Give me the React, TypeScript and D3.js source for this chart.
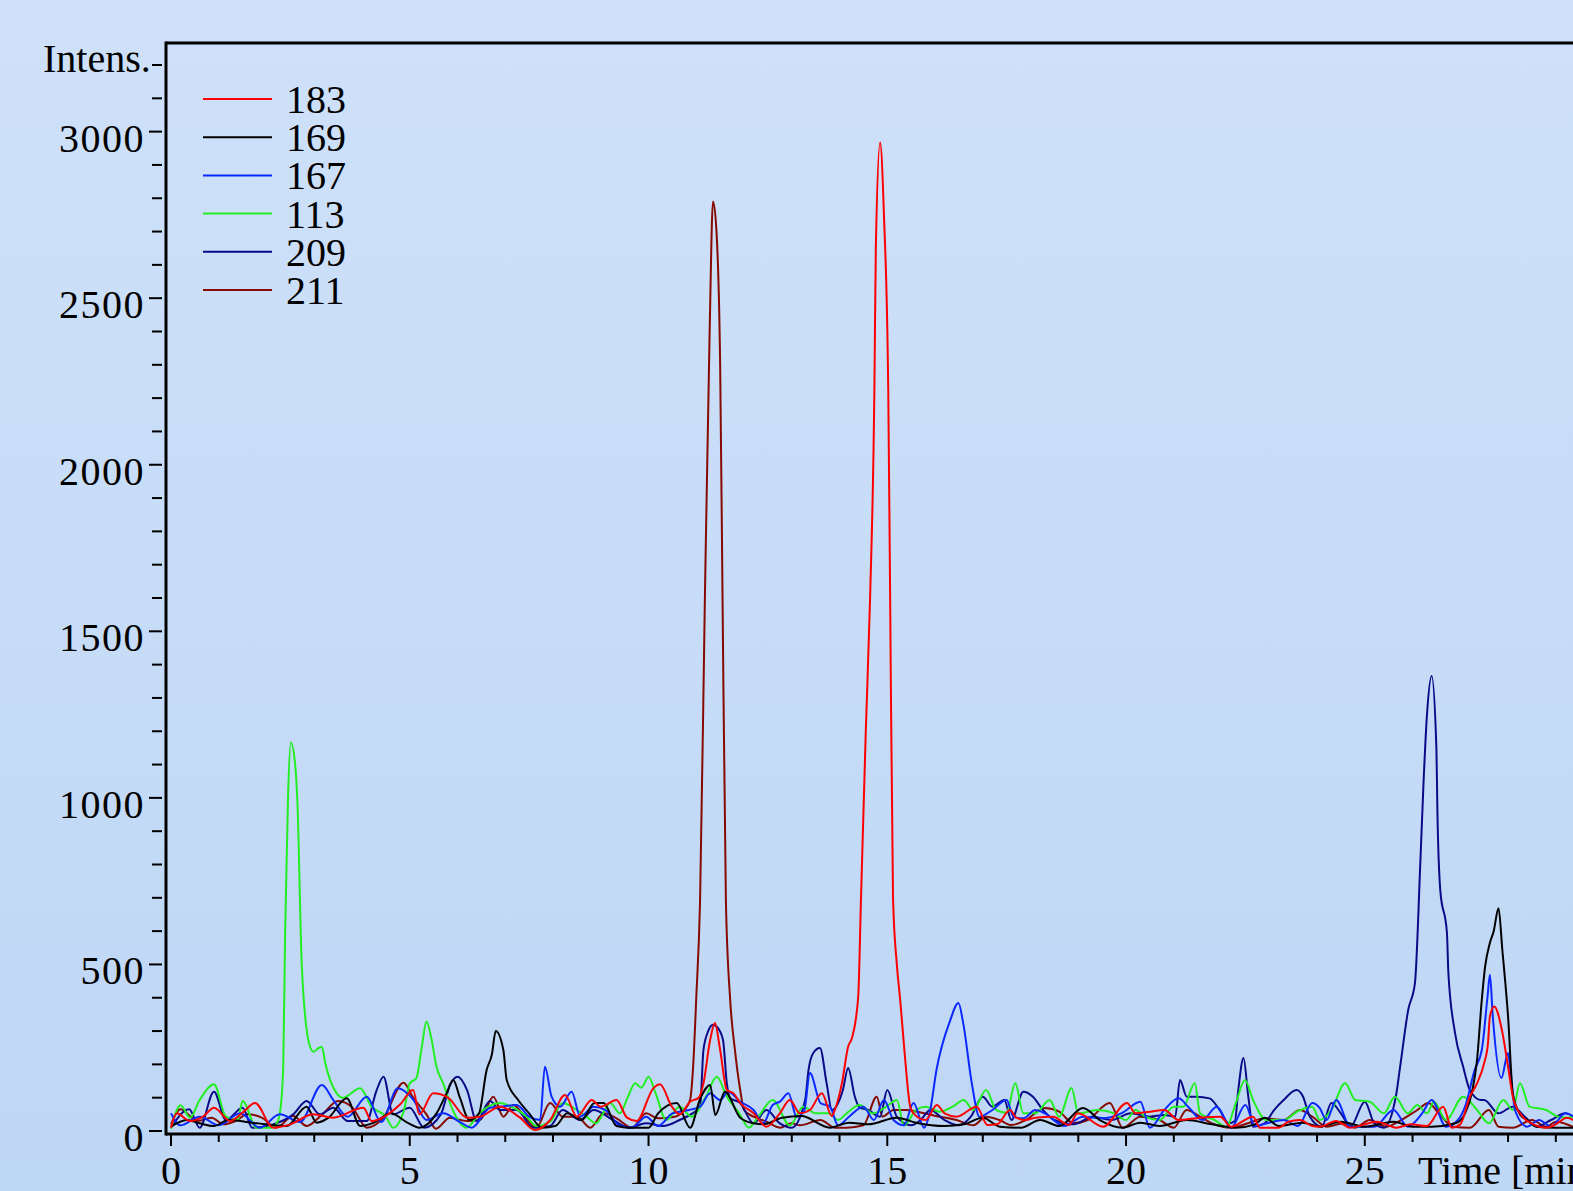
import React from 'react';
import * as d3 from 'd3';

// each trace is a list of [time (min), intensity]
const s183: [number, number][] = [
  [0, 10], [0.12, 53], [0.4, 30], [0.67, 43], [0.9, 70], [1.24, 30], [1.5, 55], [1.76, 84], [2.14, 10], [2.5, 20], [2.98, 50],
  [3.4, 40], [4.03, 70], [4.2, 30], [4.8, 80], [5.07, 123], [5.2, 50], [5.49, 113], [5.8, 100], [6.2, 40], [6.47, 43],
  [6.89, 73], [7.31, 40], [7.62, 3], [7.94, 33], [8.25, 108], [8.5, 43], [8.81, 93], [9.0, 73], [9.33, 93], [9.55, 40],
  [9.75, 30], [10.1, 128], [10.24, 140], [10.49, 73], [10.65, 50], [10.87, 88], [11.05, 100], [11.15, 143], [11.29, 273],
  [11.39, 324], [11.5, 243], [11.64, 123], [11.78, 113], [11.92, 84], [12.2, 53], [12.47, 13], [12.75, 53], [12.96, 93],
  [13.17, 53], [13.38, 63], [13.63, 113], [13.84, 45], [13.9, 63], [14.05, 143], [14.18, 253], [14.26, 279], [14.39, 400],
  [14.45, 700], [14.55, 1200], [14.64, 1600], [14.73, 2227], [14.76, 2648], [14.85, 2967], [14.93, 2750], [15.02, 2227],
  [15.06, 1600], [15.12, 700], [15.2, 500], [15.27, 394], [15.37, 223], [15.48, 73], [15.55, 53], [15.8, 33], [16.04, 78],
  [16.2, 53], [16.45, 43], [16.87, 73], [17.1, 18], [17.3, 20], [17.57, 63], [17.7, 40], [17.9, 33], [18.1, 40],
  [18.47, 43], [18.8, 18], [18.99, 53], [19.52, 13], [20.02, 84], [20.2, 53], [20.5, 58], [20.8, 63], [21.1, 33],
  [21.55, 40], [21.97, 43], [22.2, 13], [22.66, 43], [22.8, 10], [23.2, 10], [23.4, 28], [23.64, 33], [23.9, 15],
  [24.06, 13], [24.4, 30], [24.7, 10], [25.25, 28], [25.66, 10], [25.96, 20], [26.3, 15], [26.64, 73], [26.82, 10],
  [27.0, 20], [27.2, 103], [27.35, 143], [27.5, 204], [27.58, 264], [27.62, 344], [27.71, 374], [27.87, 304], [28.0, 193],
  [28.1, 103], [28.25, 53], [28.53, 20], [28.8, 10], [29.0, 20], [29.23, 40], [29.4, 30],
];

const s169: [number, number][] = [
  [0, 13], [0.33, 33], [0.6, 23], [0.9, 15], [1.2, 33], [1.8, 23], [2.42, 15], [2.84, 73], [3.05, 25], [3.3, 40],
  [3.68, 98], [3.96, 15], [4.25, 25], [4.6, 53], [4.95, 25], [5.2, 10], [5.56, 53], [5.77, 113], [5.91, 153], [6.05, 100],
  [6.25, 33], [6.45, 53], [6.61, 183], [6.72, 230], [6.8, 300], [6.96, 243], [7.03, 153], [7.27, 93], [7.5, 53],
  [7.77, 10], [8.05, 15], [8.3, 53], [8.6, 33], [8.87, 84], [9.06, 84], [9.33, 15], [9.6, 10], [10.0, 10], [10.2, 53],
  [10.59, 84], [10.87, 10], [11.08, 96], [11.29, 138], [11.4, 48], [11.6, 118], [11.92, 40], [12.2, 23], [12.4, 20],
  [12.8, 40], [13.2, 45], [13.8, 10], [14.2, 25], [14.6, 20], [15.2, 40], [15.6, 25], [16.2, 15], [16.6, 20], [17.0, 40],
  [17.36, 13], [17.8, 10], [18.2, 33], [18.6, 15], [19.1, 69], [19.45, 33], [19.93, 10], [20.3, 25], [20.7, 15],
  [21.27, 33], [21.8, 20], [22.3, 10], [22.7, 20], [22.9, 40], [23.2, 15], [23.7, 25], [24.06, 13], [24.5, 28],
  [25.0, 13], [25.6, 28], [26.0, 13], [26.4, 13], [26.9, 23], [27.1, 53], [27.25, 120], [27.35, 213], [27.45, 394],
  [27.52, 494], [27.62, 565], [27.7, 600], [27.8, 669], [27.88, 544], [28.0, 344], [28.1, 113], [28.25, 50], [28.4, 33],
  [28.6, 13], [29.0, 10], [29.4, 10],
];

const s167: [number, number][] = [
  [0, 53], [0.2, 17], [0.6, 43], [1.0, 17], [1.45, 53], [1.86, 10], [2.28, 50], [2.7, 27], [3.16, 138], [3.4, 93],
  [3.7, 43], [4.1, 103], [4.4, 27], [4.75, 128], [5.08, 93], [5.35, 33], [5.7, 53], [6.05, 27], [6.3, 10], [6.68, 70],
  [6.89, 73], [7.24, 78], [7.5, 43], [7.73, 33], [7.83, 193], [7.97, 103], [8.15, 73], [8.39, 118], [8.57, 43],
  [8.85, 73], [9.1, 63], [9.4, 15], [9.65, 10], [9.95, 43], [10.2, 15], [10.5, 53], [10.85, 63], [11.08, 73],
  [11.29, 113], [11.5, 93], [11.67, 118], [11.92, 88], [12.2, 63], [12.4, 23], [12.6, 78], [12.75, 88], [12.93, 113],
  [13.1, 43], [13.26, 60], [13.38, 174], [13.6, 84], [13.8, 73], [13.97, 17], [14.2, 43], [14.5, 73], [14.72, 33],
  [14.93, 93], [15.13, 33], [15.35, 17], [15.55, 84], [15.77, 10], [15.9, 63], [16.03, 183], [16.31, 329], [16.49, 384],
  [16.59, 324], [16.77, 143], [16.93, 43], [17.2, 63], [17.5, 93], [17.64, 43], [17.85, 38], [18.1, 63], [18.3, 53],
  [18.7, 15], [19.1, 43], [19.5, 38], [19.9, 53], [20.3, 88], [20.5, 10], [20.8, 63], [21.1, 98], [21.3, 73], [21.6, 33],
  [21.9, 73], [22.2, 10], [22.5, 78], [22.7, 15], [23.0, 25], [23.3, 33], [23.6, 15], [23.9, 84], [24.05, 70],
  [24.2, 33], [24.4, 93], [24.7, 13], [25.2, 13], [25.6, 63], [25.9, 13], [26.2, 53], [26.4, 93], [26.7, 13],
  [26.95, 33], [27.1, 73], [27.3, 183], [27.45, 243], [27.57, 403], [27.62, 469], [27.68, 344], [27.86, 159], [28.0, 234],
  [28.06, 163], [28.15, 60], [28.4, 13], [28.65, 33], [28.9, 13], [29.2, 53], [29.4, 40],
];

const s113: [number, number][] = [
  [0, 7], [0.2, 77], [0.4, 40], [0.6, 93], [0.9, 140], [1.15, 43], [1.4, 33], [1.5, 90], [1.79, 10], [2.08, 10],
  [2.2, 20], [2.28, 54], [2.35, 193], [2.39, 595], [2.45, 1000], [2.51, 1166], [2.6, 1100], [2.645, 995], [2.74, 494],
  [2.89, 264], [2.98, 238], [3.1, 250], [3.16, 253], [3.23, 204], [3.47, 113], [3.6, 100], [3.96, 128], [4.2, 73],
  [4.5, 43], [4.65, 10], [4.88, 63], [5.0, 143], [5.14, 159], [5.25, 250], [5.35, 329], [5.45, 280], [5.56, 193],
  [5.7, 143], [5.9, 63], [6.19, 10], [6.47, 55], [6.89, 84], [7.17, 70], [7.45, 43], [7.65, 15], [7.94, 28], [8.2, 84],
  [8.5, 63], [8.7, 43], [8.9, 23], [9.2, 84], [9.4, 53], [9.57, 103], [9.72, 143], [9.85, 130], [10.0, 163], [10.15, 113],
  [10.37, 33], [10.65, 73], [10.9, 43], [11.2, 103], [11.43, 163], [11.64, 103], [11.9, 53], [12.1, 10], [12.3, 43],
  [12.6, 93], [12.96, 17], [13.24, 73], [13.5, 53], [13.77, 53], [13.97, 33], [14.15, 53], [14.42, 78], [14.7, 53],
  [14.98, 73], [15.2, 93], [15.35, 17], [15.6, 63], [15.8, 73], [16.1, 58], [16.37, 73], [16.6, 93], [16.8, 63],
  [17.07, 123], [17.28, 63], [17.5, 55], [17.68, 143], [17.85, 53], [18.1, 53], [18.4, 93], [18.6, 43], [18.86, 129],
  [19.0, 53], [19.4, 63], [19.75, 53], [20.0, 33], [20.2, 63], [20.4, 43], [20.7, 33], [21.0, 73], [21.2, 73],
  [21.44, 143], [21.55, 53], [21.85, 33], [22.1, 13], [22.3, 84], [22.49, 153], [22.66, 93], [22.94, 33], [23.3, 33],
  [23.6, 60], [23.9, 73], [24.06, 33], [24.3, 63], [24.59, 143], [24.8, 93], [25.1, 88], [25.4, 53], [25.63, 103],
  [25.9, 53], [26.1, 78], [26.3, 53], [26.45, 88], [26.7, 33], [27.06, 103], [27.35, 63], [27.6, 23], [27.9, 93],
  [28.1, 63], [28.25, 143], [28.45, 73], [28.8, 63], [29.05, 43], [29.25, 40], [29.4, 45],
];

const s209: [number, number][] = [
  [0, 10], [0.38, 65], [0.6, 10], [0.9, 118], [1.15, 33], [1.5, 70], [1.7, 10], [2.14, 20], [2.56, 50], [2.84, 90],
  [3.12, 50], [3.4, 70], [3.7, 30], [4.1, 30], [4.3, 120], [4.45, 163], [4.65, 50], [5.0, 70], [5.3, 10], [5.65, 50],
  [5.85, 140], [6.0, 163], [6.2, 123], [6.4, 30], [6.68, 90], [6.89, 63], [7.24, 63], [7.58, 10], [7.94, 15], [8.2, 63],
  [8.57, 33], [8.85, 63], [9.26, 33], [9.6, 10], [9.95, 23], [10.3, 15], [10.65, 33], [10.92, 53], [11.08, 73],
  [11.15, 243], [11.25, 300], [11.35, 319], [11.45, 310], [11.56, 273], [11.64, 143], [11.7, 100], [11.92, 84],
  [12.2, 23], [12.47, 63], [12.75, 23], [13.0, 10], [13.28, 93], [13.35, 183], [13.45, 234], [13.59, 249], [13.73, 143],
  [13.84, 63], [14.07, 123], [14.18, 189], [14.32, 103], [14.42, 70], [14.6, 63], [14.85, 43], [15.0, 123], [15.2, 43],
  [15.5, 17], [15.7, 33], [15.9, 63], [16.2, 33], [16.5, 17], [16.75, 43], [17.0, 103], [17.2, 73], [17.45, 93],
  [17.6, 33], [17.85, 118], [18.05, 103], [18.26, 63], [18.5, 33], [18.9, 20], [19.3, 43], [19.7, 33], [20.1, 53],
  [20.5, 43], [20.8, 48], [21.03, 43], [21.13, 153], [21.27, 103], [21.47, 103], [21.75, 98], [21.96, 63], [22.15, 23],
  [22.28, 30], [22.35, 123], [22.46, 219], [22.56, 103], [22.66, 13], [22.9, 23], [23.1, 63], [23.3, 93], [23.57, 123],
  [23.7, 105], [23.85, 43], [24.1, 13], [24.3, 84], [24.5, 53], [24.7, 13], [25.0, 88], [25.2, 23], [25.4, 10],
  [25.65, 103], [25.74, 193], [25.91, 364], [26.05, 444], [26.16, 795], [26.23, 1046], [26.3, 1245], [26.4, 1366],
  [26.5, 1145], [26.52, 965], [26.58, 724], [26.72, 595], [26.75, 475], [26.89, 294], [27.06, 193], [27.2, 123],
  [27.43, 93], [27.5, 93], [27.8, 53], [28.1, 73], [28.35, 43], [28.6, 13], [28.9, 33], [29.2, 53], [29.4, 40],
];

const s211: [number, number][] = [
  [0, 20], [0.2, 65], [0.55, 30], [0.85, 40], [1.1, 20], [1.35, 30], [1.6, 50], [1.9, 40], [2.2, 10], [2.56, 45],
  [2.84, 15], [3.17, 50], [3.5, 90], [3.8, 70], [4.1, 10], [4.45, 40], [4.87, 145], [5.07, 100], [5.35, 50], [5.55, 7],
  [5.84, 40], [6.2, 30], [6.47, 33], [6.75, 103], [6.96, 43], [7.17, 78], [7.38, 48], [7.65, 10], [7.94, 84], [8.2, 43],
  [8.5, 43], [8.78, 10], [9.06, 53], [9.33, 38], [9.65, 10], [9.95, 53], [10.2, 38], [10.55, 43], [10.75, 63],
  [10.87, 93], [10.93, 183], [11.0, 400], [11.08, 694], [11.18, 1596], [11.28, 2400], [11.35, 2790], [11.42, 2708],
  [11.5, 2300], [11.55, 1600], [11.62, 694], [11.71, 394], [11.81, 243], [11.92, 123], [12.0, 63], [12.2, 43],
  [12.47, 28], [12.75, 10], [13.0, 23], [13.17, 17], [13.6, 33], [13.9, 10], [14.15, 10], [14.5, 17], [14.78, 103],
  [14.9, 43], [15.13, 63], [15.4, 63], [15.77, 53], [16.1, 43], [16.45, 33], [16.8, 17], [17.07, 43], [17.35, 33],
  [17.6, 18], [17.9, 33], [18.3, 69], [18.6, 58], [18.9, 23], [19.2, 33], [19.66, 84], [19.93, 10], [20.3, 43],
  [20.7, 33], [21.0, 10], [21.27, 63], [21.55, 43], [21.8, 23], [22.2, 10], [22.55, 23], [22.9, 38], [23.3, 33],
  [23.64, 63], [23.9, 43], [24.2, 13], [24.55, 23], [24.8, 10], [25.1, 33], [25.45, 13], [25.7, 28], [26.1, 63],
  [26.33, 84], [26.55, 53], [26.85, 13], [27.2, 10], [27.6, 63], [27.8, 13], [28.1, 10], [28.5, 33], [28.8, 13],
  [29.0, 28], [29.4, 10],
];

const seriesNames = ['183', '169', '167', '113', '209', '211'];
const seriesColors = ['#ff0000', '#000000', '#0a28ff', '#22ee22', '#0a0a88', '#860a00'];
const seriesData = [s183, s169, s167, s113, s209, s211];

const xTickLabels = [0, 5, 10, 15, 20, 25];
const yTickLabels = [0, 500, 1000, 1500, 2000, 2500, 3000];

const W = 1573;
const H = 1191;

export default function App() {
  const x = d3.scaleLinear().domain([0, 29.36]).range([171, 1573]);
  const y = d3.scaleLinear().domain([0, 3200]).range([1131, 65]);
  const line = d3
    .line<[number, number]>()
    .x((d) => x(d[0]))
    .y((d) => y(d[1]))
    .curve(d3.curveMonotoneX);

  const left = 166;
  const top = 43;
  const bottom = 1134;
  const font = '"Liberation Serif", "Times New Roman", serif';

  const drawOrder = [5, 4, 3, 2, 1, 0];

  return (
    <div style={{ position: 'fixed', left: 0, top: 0, width: W, height: H, overflow: 'hidden' }}>
      <svg width={W} height={H} style={{ display: 'block' }}>
        <defs>
          <linearGradient id="bg" x1="0" y1="0" x2="0" y2="1">
            <stop offset="0" stopColor="#cfe1f9" />
            <stop offset="1" stopColor="#bed7f5" />
          </linearGradient>
          <clipPath id="plot">
            <rect x={left + 1} y={top + 1} width={W - left} height={bottom - top - 1} />
          </clipPath>
        </defs>
        <rect x={0} y={0} width={W} height={H} fill="url(#bg)" />

        <g clipPath="url(#plot)" fill="none" strokeWidth={2} strokeLinejoin="round">
          {drawOrder.map((i) => (
            <path key={seriesNames[i]} d={line(seriesData[i]) || ''} stroke={seriesColors[i]} />
          ))}
        </g>

        {/* frame */}
        <line x1={left} x2={left} y1={top - 1.5} y2={bottom + 1.5} stroke="#000" strokeWidth={3} />
        <line x1={left} x2={W} y1={top} y2={top} stroke="#000" strokeWidth={3} />
        <line x1={left} x2={W} y1={bottom} y2={bottom} stroke="#000" strokeWidth={3} />

        {/* y ticks */}
        {d3.range(0, 3201, 100).map((v) => (
          <line
            key={'yt' + v}
            x1={v % 500 === 0 ? 149 : 152}
            x2={162}
            y1={y(v)}
            y2={y(v)}
            stroke="#000"
            strokeWidth={2}
          />
        ))}
        {yTickLabels.map((v) => (
          <text
            key={'yl' + v}
            x={145}
            y={y(v) + 20}
            textAnchor="end"
            fontFamily={font}
            fontSize={40}
            letterSpacing={1.5}
            fill="#000"
          >
            {v}
          </text>
        ))}
        <text x={43} y={72} fontFamily={font} fontSize={40} fill="#000">
          Intens.
        </text>

        {/* x ticks */}
        {d3.range(0, 30, 1).map((t) => (
          <line
            key={'xt' + t}
            x1={x(t)}
            x2={x(t)}
            y1={bottom + 1}
            y2={bottom + (t % 5 === 0 ? 12 : 8)}
            stroke="#000"
            strokeWidth={2}
          />
        ))}
        {xTickLabels.map((t) => (
          <text
            key={'xl' + t}
            x={x(t)}
            y={1184}
            textAnchor="middle"
            fontFamily={font}
            fontSize={40}
            fill="#000"
          >
            {t}
          </text>
        ))}
        <text x={1418} y={1184} fontFamily={font} fontSize={40} fill="#000">
          Time [min]
        </text>

        {/* legend */}
        {seriesNames.map((name, i) => {
          const ly = 99 + i * 38.2;
          return (
            <g key={'lg' + name}>
              <line x1={203} x2={272} y1={ly} y2={ly} stroke={seriesColors[i]} strokeWidth={2} />
              <text x={286} y={ly + 14} fontFamily={font} fontSize={40} fill="#000">
                {name}
              </text>
            </g>
          );
        })}
      </svg>
    </div>
  );
}
